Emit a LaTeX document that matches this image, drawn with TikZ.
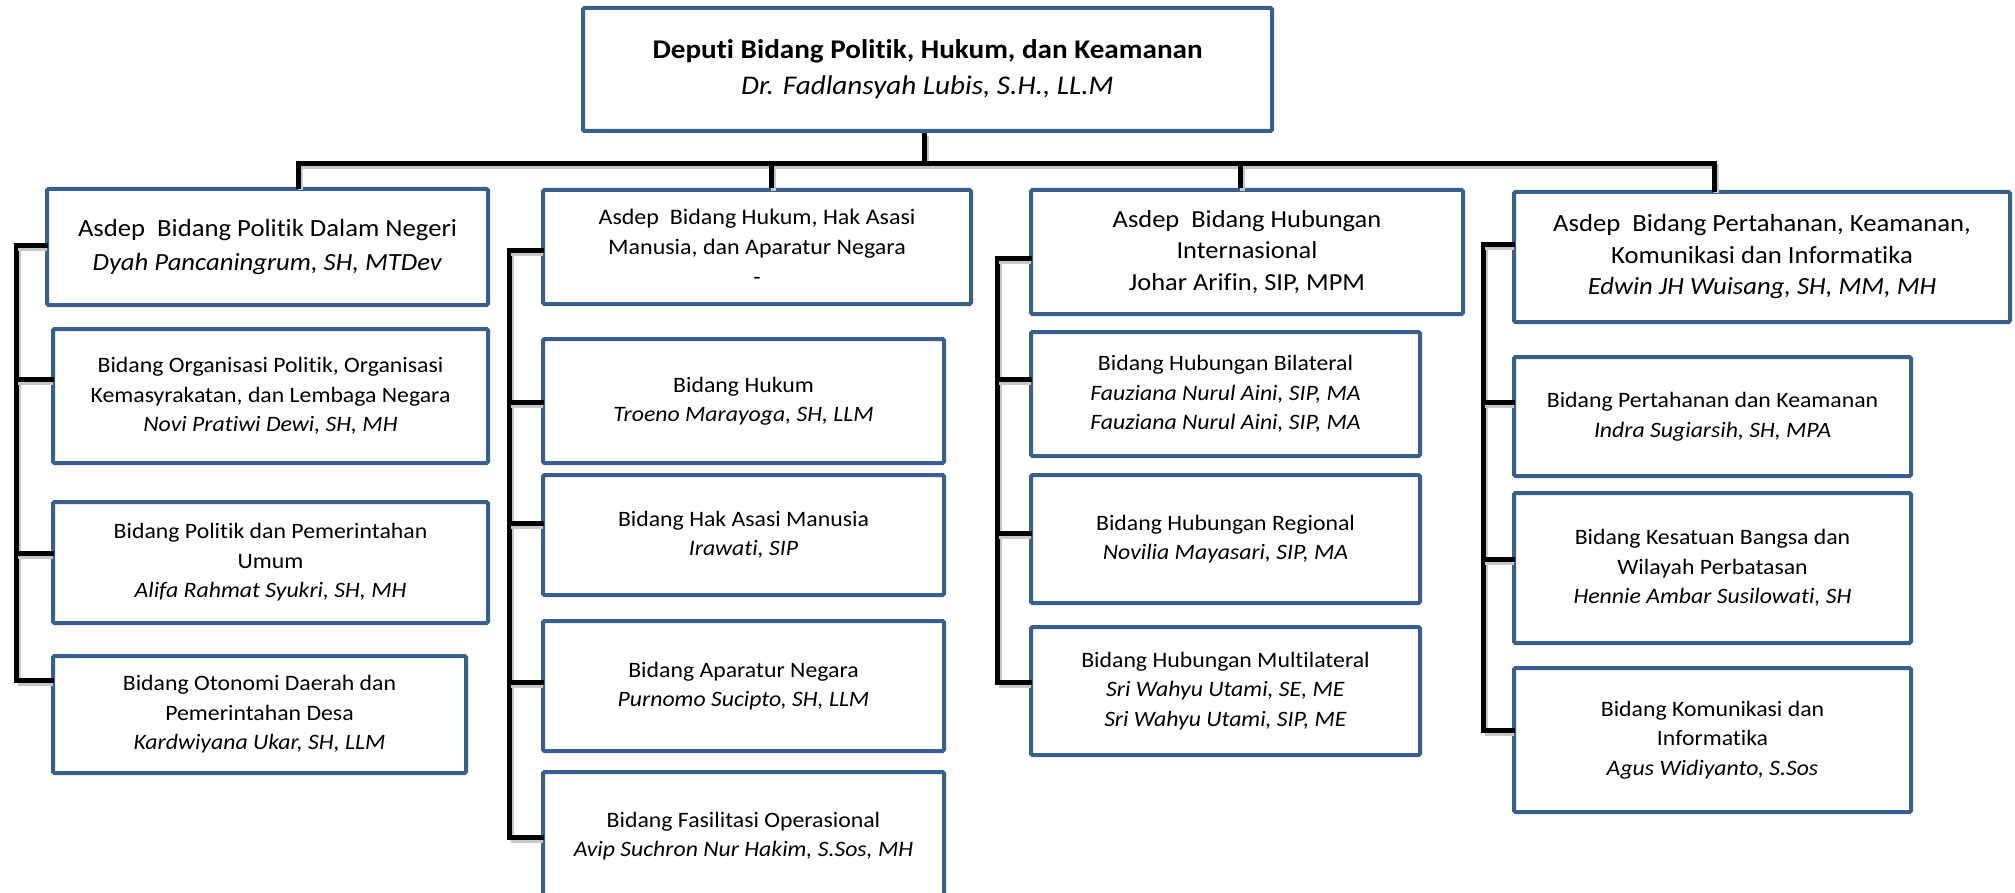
\documentclass[tikz,border=0pt]{standalone}
\usepackage{fontspec}
\setmainfont{Carlito}[FakeStretch=1.08, Ligatures={NoCommon,NoContextual,NoRequired}, Contextuals=NoAlternate]
\definecolor{boxblue}{HTML}{3B5F8D}
\tikzset{
  box/.style={draw=boxblue, line width=4pt, rounded corners=1.5pt, fill=white,
    align=center, inner sep=0pt},
  chf/.style={font=\fontsize{22}{29.5}\selectfont},
  conn/.style={line width=5pt, line cap=rect, black,
    preaction={draw=black!22, line width=5pt, transform canvas={shift={(2pt,-3pt)}}}},
}
\begin{document}
\begin{tikzpicture}[x=1pt,y=-1pt]
\useasboundingbox (0,0) rectangle (2015,893);
% top
\node[box, minimum width=689, minimum height=123, font=\fontsize{27}{36}\selectfont] (top) at (927.5,69.5)
  {\textbf{Deputi Bidang Politik, Hukum, dan Keamanan}\\\textit{Dr. Fadlansyah Lubis, S.H., LL.M}};
% asdep boxes
\node[box, font=\fontsize{24.7}{34}\selectfont, minimum width=441, minimum height=116] (A1) at (267.5,247)
  {Asdep\ \ Bidang Politik Dalam Negeri\\\textit{Dyah Pancaningrum, SH, MTDev}};
\node[box, font=\fontsize{22.2}{30}\selectfont, minimum width=428, minimum height=114] (A2) at (757,247)
  {Asdep\ \ Bidang Hukum, Hak Asasi\\Manusia, dan Aparatur Negara\\-};
\node[box, font=\fontsize{24.5}{31.5}\selectfont, minimum width=432, minimum height=124] (A3) at (1247,252)
  {Asdep\ \ Bidang Hubungan\\Internasional\\Johar Arifin, SIP, MPM};
\node[box, font=\fontsize{24.7}{31.5}\selectfont, minimum width=496, minimum height=130] (A4) at (1762,257)
  {Asdep\ \ Bidang Pertahanan, Keamanan,\\Komunikasi dan Informatika\\\textit{Edwin JH Wuisang, SH, MM, MH}};
% column 1
\node[box, chf, minimum width=435, minimum height=134] (C1a) at (270.5,396)
  {Bidang Organisasi Politik, Organisasi\\Kemasyrakatan, dan Lembaga Negara\\\textit{Novi Pratiwi Dewi, SH, MH}};
\node[box, chf, minimum width=435, minimum height=121] (C1b) at (270.5,562.5)
  {Bidang Politik dan Pemerintahan\\Umum\\\textit{Alifa Rahmat Syukri, SH, MH}};
\node[box, chf, minimum width=413, minimum height=117] (C1c) at (259.5,714.5)
  {Bidang Otonomi Daerah dan\\Pemerintahan Desa\\\textit{Kardwiyana Ukar, SH, LLM}};
% column 2
\node[box, chf, minimum width=401, minimum height=124] (C2a) at (743.5,401)
  {Bidang Hukum\\\textit{Troeno Marayoga, SH, LLM}};
\node[box, chf, minimum width=401, minimum height=120] (C2b) at (743.5,535)
  {Bidang Hak Asasi Manusia\\\textit{Irawati, SIP}};
\node[box, chf, minimum width=401, minimum height=130] (C2c) at (743.5,686)
  {Bidang Aparatur Negara\\\textit{Purnomo Sucipto, SH, LLM}};
\node[box, chf, minimum width=401, minimum height=128] (C2d) at (743.5,836)
  {Bidang Fasilitasi Operasional\\\textit{Avip Suchron Nur Hakim, S.Sos, MH}};
% column 3
\node[box, chf, minimum width=389, minimum height=124] (C3a) at (1225.5,394)
  {Bidang Hubungan Bilateral\\\textit{Fauziana Nurul Aini, SIP, MA}\\\textit{Fauziana Nurul Aini, SIP, MA}};
\node[box, chf, minimum width=389, minimum height=128] (C3b) at (1225.5,539)
  {Bidang Hubungan Regional\\\textit{Novilia Mayasari, SIP, MA}};
\node[box, chf, minimum width=389, minimum height=128] (C3c) at (1225.5,691)
  {Bidang Hubungan Multilateral\\\textit{Sri Wahyu Utami, SE, ME}\\\textit{Sri Wahyu Utami, SIP, ME}};
% column 4
\node[box, chf, minimum width=397, minimum height=119] (C4a) at (1712.5,416.5)
  {Bidang Pertahanan dan Keamanan\\\textit{Indra Sugiarsih, SH, MPA}};
\node[box, chf, minimum width=397, minimum height=150] (C4b) at (1712.5,568)
  {Bidang Kesatuan Bangsa dan\\Wilayah Perbatasan\\\textit{Hennie Ambar Susilowati, SH}};
\node[box, chf, minimum width=397, minimum height=144] (C4c) at (1712.5,740)
  {Bidang Komunikasi dan\\Informatika\\\textit{Agus Widiyanto, S.Sos}};
% bus
\coordinate (b0) at (924,164);
\coordinate (b1) at (298,164);
\coordinate (b2) at (771,164);
\coordinate (b3) at (1240,164);
\coordinate (b4) at (1714,164);
\draw[conn, line cap=butt] (top.south -| b0) -- (b0);
\draw[conn, line join=miter] (b1 |- A1.north) -- (b1) -- (b4) -- (b4 |- A4.north);
\draw[conn, line cap=butt] (b2) -- (b2 |- A2.north);
\draw[conn, line cap=butt] (b3) -- (b3 |- A3.north);
% spine 1
\coordinate (s1a) at (16,246);
\coordinate (s1b) at (16,379);
\coordinate (s1c) at (16,553);
\coordinate (s1d) at (16,680);
\draw[conn] (s1a) -- (s1d);
\draw[conn] (s1a) -- (A1.west |- s1a);
\draw[conn] (s1b) -- (C1a.west |- s1b);
\draw[conn] (s1c) -- (C1b.west |- s1c);
\draw[conn] (s1d) -- (C1c.west |- s1d);
% spine 2
\coordinate (s2a) at (509,251);
\coordinate (s2b) at (509,402);
\coordinate (s2c) at (509,523);
\coordinate (s2d) at (509,682);
\coordinate (s2e) at (509,837);
\draw[conn] (s2a) -- (s2e);
\draw[conn] (s2a) -- (A2.west |- s2a);
\draw[conn] (s2b) -- (C2a.west |- s2b);
\draw[conn] (s2c) -- (C2b.west |- s2c);
\draw[conn] (s2d) -- (C2c.west |- s2d);
\draw[conn] (s2e) -- (C2d.west |- s2e);
% spine 3
\coordinate (s3a) at (997,259);
\coordinate (s3b) at (997,379);
\coordinate (s3c) at (997,533);
\coordinate (s3d) at (997,682);
\draw[conn] (s3a) -- (s3d);
\draw[conn] (s3a) -- (A3.west |- s3a);
\draw[conn] (s3b) -- (C3a.west |- s3b);
\draw[conn] (s3c) -- (C3b.west |- s3c);
\draw[conn] (s3d) -- (C3c.west |- s3d);
% spine 4
\coordinate (s4a) at (1483,245);
\coordinate (s4b) at (1483,402);
\coordinate (s4c) at (1483,559);
\coordinate (s4d) at (1483,730);
\draw[conn] (s4a) -- (s4d);
\draw[conn] (s4a) -- (A4.west |- s4a);
\draw[conn] (s4b) -- (C4a.west |- s4b);
\draw[conn] (s4c) -- (C4b.west |- s4c);
\draw[conn] (s4d) -- (C4c.west |- s4d);
\end{tikzpicture}
\end{document}
